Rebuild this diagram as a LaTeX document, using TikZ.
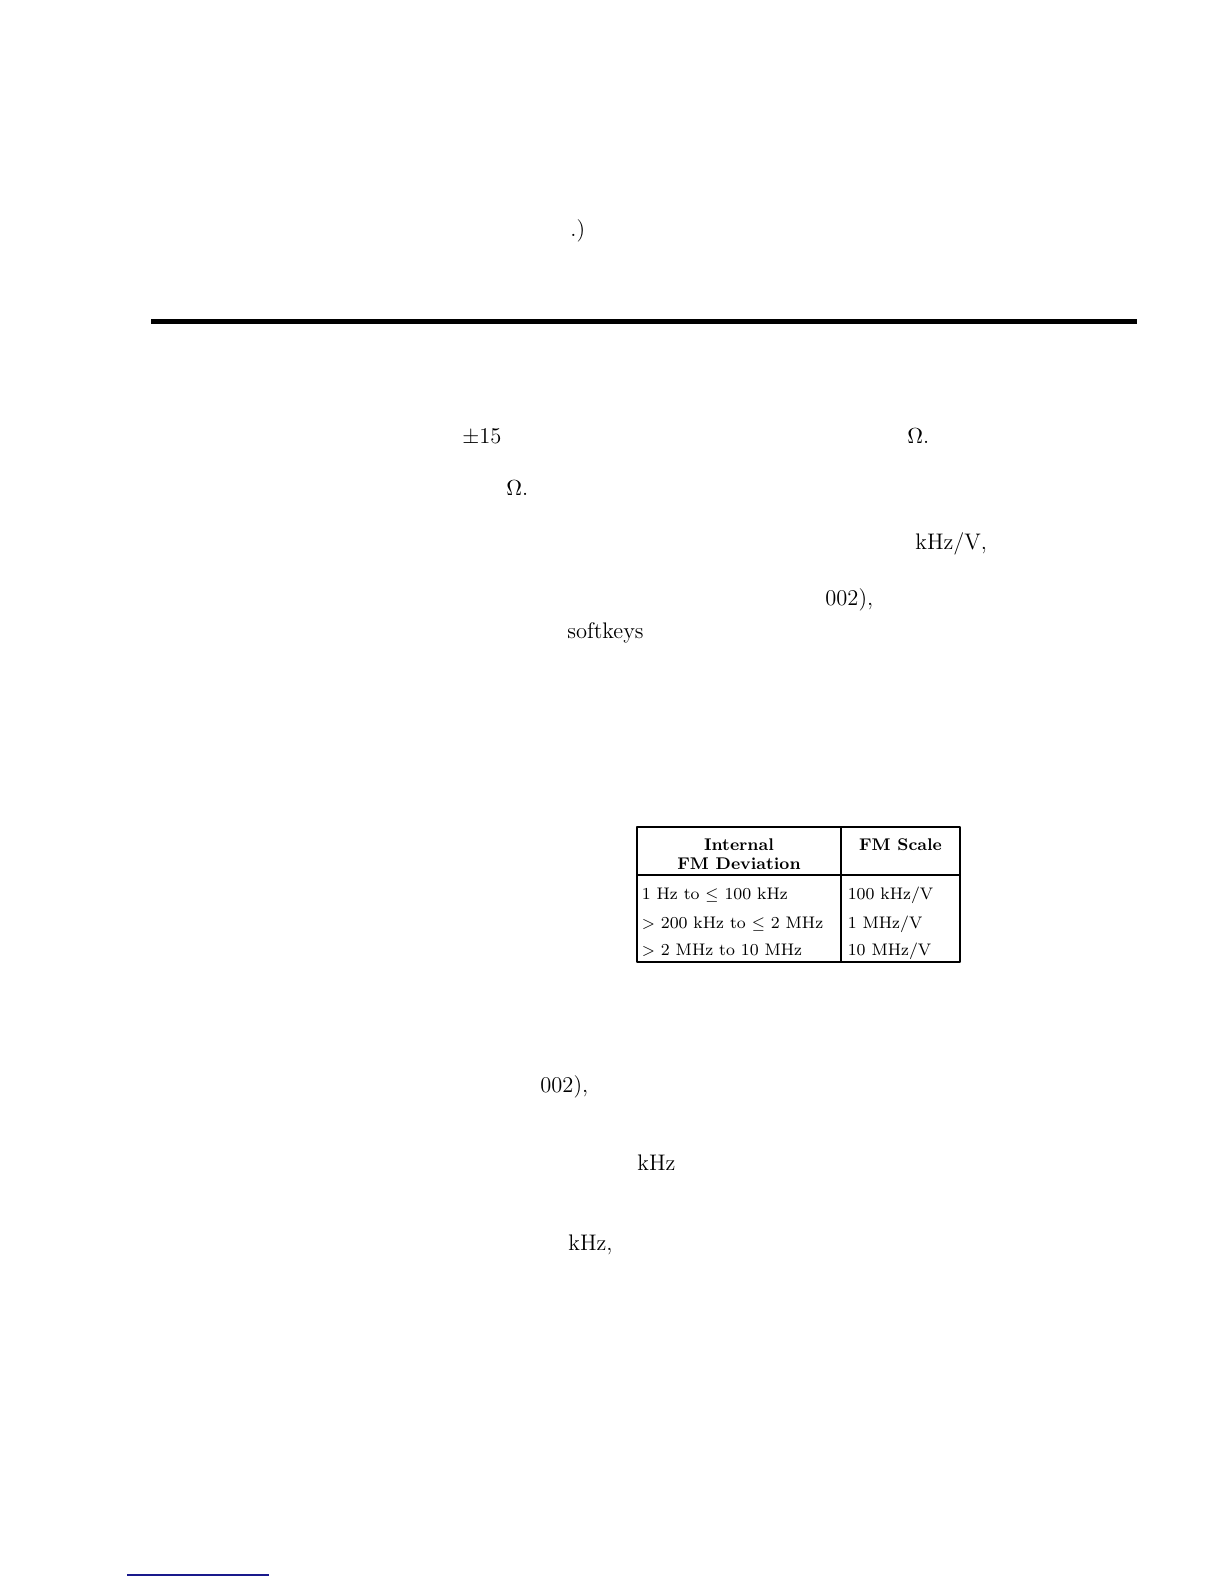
\documentclass[tikz,border=0pt]{standalone}
\usepackage{fontspec}
\begin{document}
\begin{tikzpicture}[x=0.5bp, y=-0.5bp, font=\fontsize{11.3}{13.6}\selectfont, line join=round,
			frag/.style={anchor=base west, inner sep=0pt},
			cell/.style={anchor=base west, inner sep=0pt, font=\fontsize{8.4}{10}\selectfont},
			head/.style={anchor=base, inner sep=0pt, font=\fontsize{8.5}{10}\selectfont\bfseries}]
			\useasboundingbox (0,0) rectangle (1224,1584);
			% upper text fragments
			\node[frag] (paren) at (570,236) {.)};
			\fill (151,318.5) rectangle (1137,323.5);
			\node[frag] (pmfif) at (462,443) {$\pm$15};
			\node[frag] (ohmA) at (907,443) {$\Omega$.};
			\node[frag] (ohmB) at (506,495) {$\Omega$.};
			\node[frag] (khzv) at (915,549) {kHz/V,};
			\node[frag] (optA) at (825,605) {002),};
			\node[frag] (soft) at (567,638) {softkeys};
			\begin{scope}[line width=0.8bp]
				\def \xl{637}
				\def \xr{960}
				\def \xsep{841}
				\def \ytop{827}
				\def \ymid{875}
				\def \ybot{962}
				\draw (\xl,\ytop) rectangle (\xr,\ybot);
				\draw (\xsep,\ytop) -- (\xsep,\ybot);
				\draw[line width=1bp] (\xl,\ymid) -- (\xr,\ymid);
				\node[head] (hdevA) at (739,850) {Internal};
				\node[head] (hdevB) at (739,869) {FM Deviation};
				\node[head] (hscale) at (900.5,850) {FM Scale};
				\node[cell] (devA) at (641,899) {1 Hz to $\leq$ 100 kHz};
				\node[cell] (devB) at (641,928) {$>$ 200 kHz to $\leq$ 2 MHz};
				\node[cell] (devC) at (641,955) {$>$ 2 MHz to 10 MHz};
				\node[cell] (scA) at (847,899) {100 kHz/V};
				\node[cell] (scB) at (847,928) {1 MHz/V};
				\node[cell] (scC) at (847,955) {10 MHz/V};
			\end{scope}
			% lower text fragments
			\node[frag] (optB) at (540,1092) {002),};
			\node[frag] (khzA) at (637,1170) {kHz};
			\node[frag] (khzB) at (568,1250) {kHz,};
			\draw[color={rgb,255:red,25;green,25;blue,140}, line width=0.7bp] (127,1575) -- (269,1575);
		\end{tikzpicture}
\end{document}
